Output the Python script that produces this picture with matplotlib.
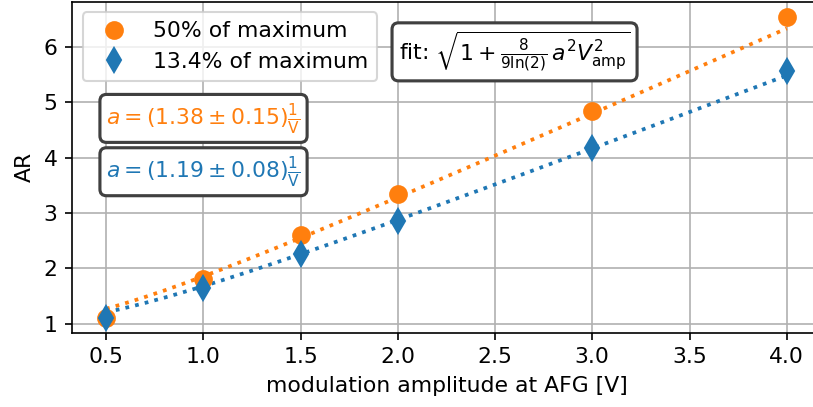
import numpy as np
import matplotlib
matplotlib.use('Agg')
from matplotlib import pyplot as plt

# measured values
amp = [0.5, 1.0, 1.5, 2.0, 3.0, 4.0]
ar_50 = [1.11, 1.81, 2.61, 3.34, 4.84, 6.545]
ar_134 = [1.11, 1.65, 2.25, 2.86, 4.165, 5.56]

# fit parameters (1/V)
a_50, da_50 = 1.38, 0.15
a_134, da_134 = 1.19, 0.08

labels = ['50% of maximum', '13.4% of maximum']

plt.rcParams['font.size'] = 10.5


def fit_func(v, a):
  return np.sqrt(1 + 8 / (9 * np.log(2)) * a**2 * v**2)


fig = plt.figure(figsize=(813 / 150, 407 / 150), dpi=150)
ax = fig.add_axes([0.0886, 0.1826, 0.921, 0.8137])

v = np.linspace(min(amp), max(amp), 200)
ax.plot(v, fit_func(v, a_50), ':', color='C1', lw=1.8, zorder=2)
ax.plot(v, fit_func(v, a_134), ':', color='C0', lw=1.8, zorder=2)

ax.plot(amp, ar_50, 'o', color='C1', markersize=8, label=labels[0], zorder=3)
ax.plot(amp, ar_134, 'd', color='C0', markersize=8, label=labels[1], zorder=3)

ax.set_xticks(np.arange(0.5, 4.01, 0.5))
ax.set_yticks([1, 2, 3, 4, 5, 6])
ax.set_xlabel('modulation amplitude at AFG [V]')
ax.set_ylabel('AR')
ax.grid(True)
ax.legend(loc='upper left')

box = dict(boxstyle='round', facecolor='white', edgecolor='0.25', lw=1.5)
ax.text(0.591, 0.848, r'fit: $\sqrt{1 + \frac{8}{9\ln(2)}\,a^2 V_\mathrm{amp}^2}$',
        transform=ax.transAxes, ha='center', va='center', bbox=box)
ax.text(0.1756, 0.647, r'$a = (%.2f \pm %.2f)\frac{1}{\mathrm{V}}$' % (a_50, da_50),
        transform=ax.transAxes, ha='center', va='center', color='C1', bbox=box)
ax.text(0.1756, 0.486, r'$a = (%.2f \pm %.2f)\frac{1}{\mathrm{V}}$' % (a_134, da_134),
        transform=ax.transAxes, ha='center', va='center', color='C0', bbox=box)

fig.savefig('out.png', dpi=150)
